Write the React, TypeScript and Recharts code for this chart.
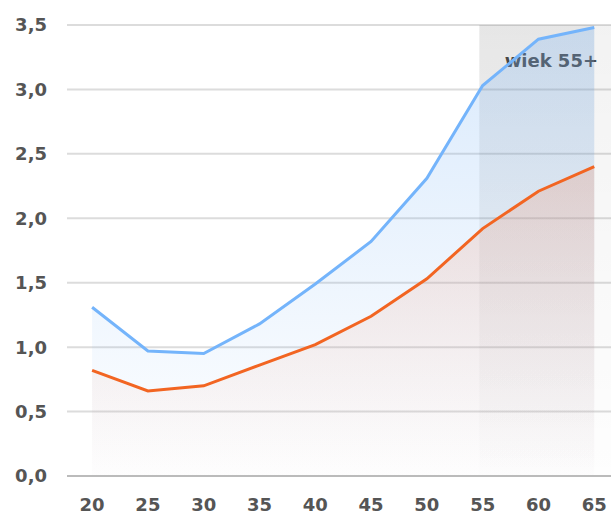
import React from "react";
import {
  ComposedChart,
  Area,
  XAxis,
  YAxis,
  CartesianGrid,
  ReferenceArea,
} from "recharts";

const ages = [20, 25, 30, 35, 40, 45, 50, 55, 60, 65];
const blueValues = [1.31, 0.97, 0.95, 1.18, 1.49, 1.82, 2.31, 3.03, 3.39, 3.48];
const orangeValues = [0.82, 0.66, 0.7, 0.86, 1.02, 1.24, 1.53, 1.92, 2.21, 2.4];
const yTicks = [0, 0.5, 1, 1.5, 2, 2.5, 3, 3.5];
const bandLabel = "wiek 55+";

const data = ages.map((age, i) => ({
  age,
  blue: blueValues[i],
  orange: orangeValues[i],
}));

const tickStyle = {
  fill: "#555",
  fontSize: 18,
  fontWeight: 700,
  fontFamily: "'DejaVu Sans', sans-serif",
};

const BandLabel = (props: any) => {
  const vb = props.viewBox || {};
  return (
    <text
      x={vb.x + vb.width - 13}
      y={vb.y + 42}
      textAnchor="end"
      fill="#4a4a4a"
      fontSize={18}
      fontWeight={700}
      fontFamily="'DejaVu Sans', sans-serif"
    >
      {bandLabel}
    </text>
  );
};

const App = () => {
  return (
    <div style={{ position: "absolute", left: 0, top: 0 }}>
      <ComposedChart
        width={611}
        height={516}
        data={data}
        margin={{ top: 25, right: 0, bottom: 0, left: 0 }}
      >
        <defs>
          <linearGradient id="blueFill" x1="0" y1="0" x2="0" y2="1">
            <stop offset="0%" stopColor="#7ab4f5" stopOpacity={0.28} />
            <stop offset="100%" stopColor="#7ab4f5" stopOpacity={0.01} />
          </linearGradient>
          <linearGradient id="orangeFill" x1="0" y1="0" x2="0" y2="1">
            <stop offset="0%" stopColor="#f08a62" stopOpacity={0.24} />
            <stop offset="100%" stopColor="#f5a080" stopOpacity={0.01} />
          </linearGradient>
          <linearGradient id="bandOuter" x1="0" y1="0" x2="0" y2="1">
            <stop offset="0%" stopColor="#000" stopOpacity={0.05} />
            <stop offset="100%" stopColor="#000" stopOpacity={0.005} />
          </linearGradient>
          <linearGradient id="bandInner" x1="0" y1="0" x2="0" y2="1">
            <stop offset="0%" stopColor="#000" stopOpacity={0.05} />
            <stop offset="100%" stopColor="#000" stopOpacity={0} />
          </linearGradient>
        </defs>
        <CartesianGrid vertical={false} stroke="#dcdcdc" strokeWidth={2} />
        <ReferenceArea
          x1={54.7}
          x2={66.5}
          y1={0}
          y2={3.5}
          fill="url(#bandOuter)"
          fillOpacity={1}
          stroke="none"
          label={<BandLabel />}
        />
        <ReferenceArea
          x1={54.7}
          x2={65}
          y1={0}
          y2={3.5}
          fill="url(#bandInner)"
          fillOpacity={1}
          stroke="none"
        />
        <XAxis
          dataKey="age"
          type="number"
          domain={[17.75, 66.5]}
          ticks={ages}
          height={40}
          tick={tickStyle}
          tickLine={false}
          axisLine={{ stroke: "#bbb", strokeWidth: 2 }}
          tickMargin={16}
          allowDataOverflow
        />
        <YAxis
          domain={[0, 3.5]}
          ticks={yTicks}
          width={67}
          tick={tickStyle}
          tickLine={false}
          axisLine={false}
          tickMargin={14}
          tickFormatter={(v: number) => v.toFixed(1).replace(".", ",")}
        />
        <Area
          type="linear"
          dataKey="blue"
          stroke="#74b4fb"
          strokeWidth={3}
          fill="url(#blueFill)"
          fillOpacity={1}
          dot={false}
          activeDot={false}
          isAnimationActive={false}
        />
        <Area
          type="linear"
          dataKey="orange"
          stroke="#f26522"
          strokeWidth={3}
          fill="url(#orangeFill)"
          fillOpacity={1}
          dot={false}
          activeDot={false}
          isAnimationActive={false}
        />
      </ComposedChart>
    </div>
  );
};

export default App;
